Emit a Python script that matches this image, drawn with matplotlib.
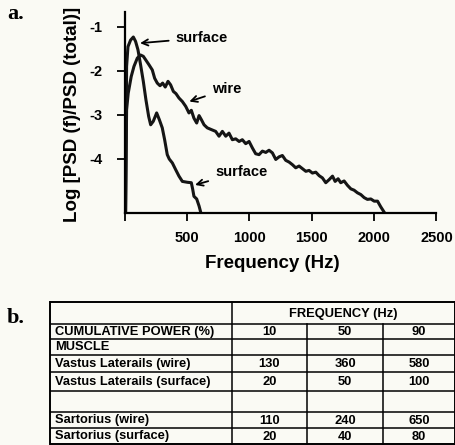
import numpy as np
import matplotlib.pyplot as plt

plt.rcParams['font.family'] = ['Liberation Sans', 'DejaVu Sans']
plt.rcParams['font.weight'] = 'bold'
plt.rcParams['axes.unicode_minus'] = False

# ---- panel a: spectra ----
surf_f = [8, 16, 27, 48, 70, 88, 107, 128, 150, 171, 193, 209, 230, 257, 278, 302,
          321, 342, 358, 383, 409, 436, 463, 503, 535, 546, 556, 578, 597, 610]
surf_p = [-5.22, -1.90, -1.45, -1.30, -1.23, -1.33, -1.52, -1.86, -2.24, -2.66, -3.04,
          -3.23, -3.15, -2.96, -3.11, -3.30, -3.57, -3.91, -4.01, -4.10, -4.25, -4.40,
          -4.52, -4.54, -4.55, -4.70, -4.86, -4.92, -5.08, -5.22]

wire_f = [8, 16, 29, 53, 75, 102, 128, 150, 169, 195, 222, 241, 262, 284, 305, 326,
          348, 369, 391, 412, 436, 463, 490, 516, 535, 556, 578, 597, 615, 637, 663,
          696, 730, 757, 784, 811, 837, 864, 891, 918, 944, 971, 998, 1025, 1051,
          1078, 1105, 1132, 1158, 1185, 1212, 1239, 1265, 1292, 1319, 1346, 1372,
          1399, 1426, 1453, 1479, 1506, 1533, 1560, 1586, 1613, 1640, 1667, 1688,
          1712, 1733, 1760, 1787, 1814, 1840, 1867, 1894, 1921, 1947, 1974, 2001,
          2028, 2054, 2081]
wire_p = [-5.22, -2.89, -2.51, -2.13, -1.90, -1.71, -1.64, -1.67, -1.75, -1.86, -1.98,
          -2.17, -2.28, -2.34, -2.28, -2.37, -2.24, -2.32, -2.47, -2.52, -2.62, -2.70,
          -2.81, -2.96, -2.90, -3.08, -3.19, -3.02, -3.11, -3.23, -3.30, -3.34, -3.38,
          -3.49, -3.38, -3.49, -3.42, -3.57, -3.55, -3.61, -3.57, -3.66, -3.61, -3.76,
          -3.89, -3.91, -3.83, -3.86, -3.81, -3.87, -4.02, -3.96, -3.93, -4.04, -4.08,
          -4.14, -4.21, -4.17, -4.23, -4.29, -4.27, -4.33, -4.31, -4.39, -4.44, -4.55,
          -4.48, -4.40, -4.52, -4.46, -4.55, -4.51, -4.61, -4.69, -4.72, -4.78, -4.82,
          -4.89, -4.93, -4.92, -4.97, -4.97, -5.10, -5.22]

x_ticks = [0, 500, 1000, 1500, 2000, 2500]
x_ticklabels = ['', '500', '1000', '1500', '2000', '2500']
y_ticks = [-1, -2, -3, -4]
y_ticklabels = ['-1', '-2', '-3', '-4']

# ---- panel b: table ----
freq_header = "FREQUENCY (Hz)"
row_names = ["CUMULATIVE POWER (%)", "MUSCLE", "Vastus Laterails (wire)",
             "Vastus Laterails (surface)", "", "Sartorius (wire)", "Sartorius (surface)"]
cum_power = ["10", "50", "90"]
vl_wire = [130, 360, 580]
vl_surface = [20, 50, 100]
sart_wire = [110, 240, 650]
sart_surface = [20, 40, 80]
row_values = [cum_power, [], vl_wire, vl_surface, [], sart_wire, sart_surface]

bg = '#fafaf4'
W, H = 456, 445
fig = plt.figure(figsize=(W / 100, H / 100), dpi=100, facecolor=bg)

# table drawn in pixel coordinates on a full-figure axes
tab = fig.add_axes([0, 0, 1, 1])
tab.set_xlim(0, W)
tab.set_ylim(H, 0)
tab.axis('off')

row_y = [302, 324, 339, 355, 372, 391, 412, 428, 444]
col_x = [50, 232, 307, 383, 455]
lw = 1.1
for i, y in enumerate(row_y):
    tab.plot([col_x[0], col_x[-1]], [y, y], color='k', lw=1.4 if i in (0, 8) else lw,
             solid_capstyle='butt')
for j, x in enumerate(col_x):
    y0 = row_y[0] if j in (0, 1, 4) else row_y[1]
    tab.plot([x, x], [y0, row_y[-1]], color='k', lw=1.4 if j in (0, 4) else lw)

tab.text((col_x[1] + col_x[-1]) / 2, (row_y[0] + row_y[1]) / 2 + 1, freq_header,
         ha='center', va='center', fontsize=9.3, fontweight='bold')
for r, name in enumerate(row_names):
    yc = (row_y[r + 1] + row_y[r + 2]) / 2 + 0.5
    tab.text(col_x[0] + 5, yc, name, ha='left', va='center', fontsize=9.3,
             fontweight='bold')
    for c, v in enumerate(row_values[r]):
        tab.text((col_x[c + 1] + col_x[c + 2]) / 2, yc, str(v), ha='center',
                 va='center', fontsize=9.3, fontweight='bold')

fig.text(7 / W, 1 - 14 / H, 'a.', family='Liberation Serif', fontsize=16,
         fontweight='bold', va='center', ha='left')
fig.text(7 / W, 1 - 318 / H, 'b.', family='Liberation Serif', fontsize=16,
         fontweight='bold', va='center', ha='left')

# spectrum axes
ax = fig.add_axes([124.6 / W, 1 - 213 / H, 311.8 / W, 201 / H])
ax.set_facecolor('none')
ax.plot(surf_f, surf_p, color='#151515', lw=2.2, solid_joinstyle='round')
ax.plot(wire_f, wire_p, color='#151515', lw=2.2, solid_joinstyle='round')
ax.set_xlim(0, 2500)
ax.set_ylim(-5.24, -0.66)
for s in ['top', 'right']:
    ax.spines[s].set_visible(False)
for s in ['left', 'bottom']:
    ax.spines[s].set_linewidth(1.6)
ax.set_xticks(x_ticks)
ax.set_xticklabels(x_ticklabels)
ax.set_yticks(y_ticks)
ax.set_yticklabels(y_ticklabels)
ax.tick_params(axis='x', length=6, width=1.3, labelsize=10.5, pad=7)
ax.tick_params(axis='y', length=6, width=1.3, labelsize=10.5, pad=10)
for lab in ax.get_xticklabels() + ax.get_yticklabels():
    lab.set_fontweight('bold')

ax.set_xlabel('Frequency (Hz)', fontsize=13.5, fontweight='bold')
ax.xaxis.set_label_coords(0.474, -0.21)
ax.set_ylabel('Log [PSD (f)/PSD (total)]', fontsize=13.5, fontweight='bold')
ax.yaxis.set_label_coords(-0.14, 0.49)

arrow = dict(arrowstyle='->', lw=1.3, color='k', shrinkA=3, shrinkB=0,
             mutation_scale=11)
ax.annotate('surface', xy=(124, -1.37), xytext=(409, -1.25), ha='left', va='center',
            fontsize=10.5, fontweight='bold', arrowprops=arrow)
ax.annotate('wire', xy=(519, -2.70), xytext=(698, -2.42), ha='left', va='center',
            fontsize=10.5, fontweight='bold', arrowprops=arrow)
ax.annotate('surface', xy=(565, -4.60), xytext=(725, -4.30), ha='left', va='center',
            fontsize=10.5, fontweight='bold', arrowprops=arrow)

plt.savefig('out.png', dpi=100, facecolor=bg)
